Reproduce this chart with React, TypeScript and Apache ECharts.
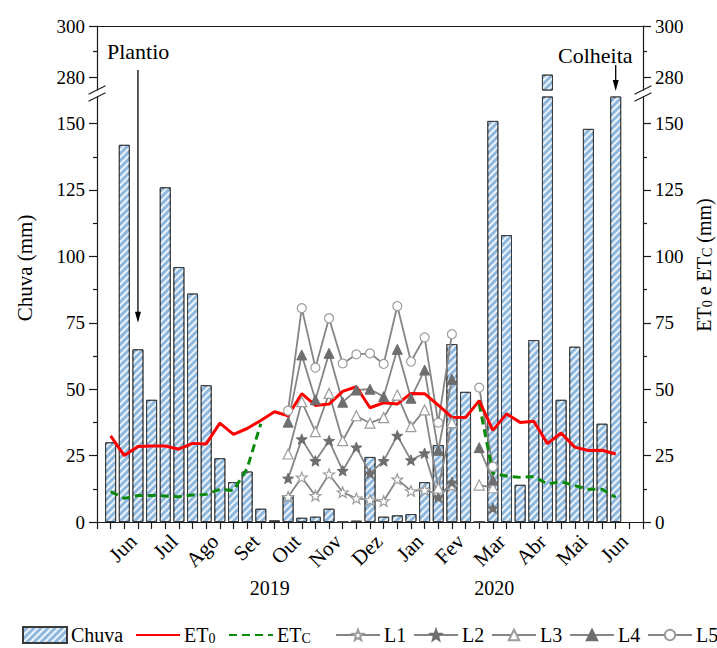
import { useEffect, useRef } from 'react';
import * as echarts from 'echarts';

// 10-day periods from June 2019 to June 2020; period n sits on axis tick n.
const RAIN_START = 1;
const rainfall = [
  30, 142, 65, 46, 126, 96, 86, 51.5, 24, 15, 19, 5, 0.6, 10, 1.6, 2, 5, 0, 0.5,
  24.5, 2, 2.5, 3, 15, 29, 67, 49, 0, 151, 108, 14, 68.5, 281, 46, 66, 148, 37, 210,
];

const ET0_START = 1;
const et0 = [
  32.4, 25.0, 28.4, 28.6, 28.6, 27.4, 29.6, 29.4, 37.2, 33.0, 35.2, 38.2, 41.5, 40.0,
  48.3, 43.9, 44.4, 49.2, 50.9, 43.0, 44.9, 44.4, 48.4, 48.3, 44.0, 39.4, 39.3, 45.7,
  34.5, 40.7, 37.5, 37.9, 29.5, 33.5, 28.2, 26.9, 27.0, 25.6,
];

const ETC_START = 1;
const etc: (number | null)[] = [
  11.4, 8.9, 10.0, 10.0, 9.8, 9.5, 10.2, 10.4, 12.3, 11.8, 20.2, 37,
  null, null, null, null, null, null, null, null, null, null, null, null, null, null, null,
  44.5, 18.3, 17.3, 16.8, 17.1, 14.3, 15.2, 13.7, 12.3, 12.3, 9.3,
];

// Lysimeter readings L1..L5, periods 14 to 29
const L_START = 14;
const l1: (number | null)[] = [9.5, 16.8, 9.9, 18.0, 11.2, 8.9, 8.3, 7.9, 16.1, 11.7, 12.0, 10.5, 13.5, null, null, null];
const l2: (number | null)[] = [16.4, 31.2, 23.0, 30.6, 19.3, 28.1, 18.3, 23.0, 32.5, 23.3, 25.9, 9.3, 14.9, null, null, 5.2];
const l3: (number | null)[] = [25.6, 45.3, 34.0, 48.4, 30.6, 40.0, 37.2, 39.3, 47.8, 35.9, 42.2, 12.8, 37.4, null, 13.9, 12.9];
const l4: (number | null)[] = [37.6, 62.9, 46.0, 63.5, 45.1, 49.7, 50.0, 47.2, 65.0, 46.6, 57.2, 27.0, 53.7, null, 28.0, 15.8];
const l5: (number | null)[] = [41.9, 80.5, 58.1, 76.7, 59.7, 63.1, 63.5, 59.5, 81.3, 60.4, 69.5, 37.4, 70.7, null, 50.6, 20.8];

const monthLabels = ['Jun', 'Jul', 'Ago', 'Set', 'Out', 'Nov', 'Dez', 'Jan', 'Fev', 'Mar', 'Abr', 'Mai', 'Jun'];
const PERIODS_PER_MONTH = 3;
const MONTH_LABEL_SHIFT = -0.35;
const years = [
  { text: '2019', at: 12.65 },
  { text: '2020', at: 29.1 },
];
const PLANTING_PERIOD = 3;
const HARVEST_PERIOD = 38;

const lowerTicks = [0, 25, 50, 75, 100, 125, 150];
const lowerMinorTicks = [12.5, 37.5, 62.5, 87.5, 112.5, 137.5];
const upperTicks = [280, 300];
const upperMinorTicks = [290];

const FONT = "'Liberation Serif', 'Times New Roman', Times, serif";
const INK = '#1a1a1a';
const GRID_LEFT = 97;
const GRID_RIGHT = 74;
const UPPER_TOP = 26;
const UPPER_H = 64;
const LOWER_TOP = 97;
const LOWER_H = 425;

const STAR = 'path://M0,-10L2.47,-3.4L9.51,-3.09L3.99,1.3L5.88,8.09L0,4.2L-5.88,8.09L-3.99,1.3L-9.51,-3.09L-2.47,-3.4Z';

const pairs = (vals: (number | null)[], start: number) => vals.map((v, i) => [start + i, v]);

function yAxisDef(grid: number, side: 'left' | 'right', min: number, max: number, ticks: number[], len: number, labels: boolean) {
  return {
    type: 'value',
    gridIndex: grid,
    position: side,
    offset: 0,
    min,
    max,
    axisLine: { show: labels, onZero: false, lineStyle: { color: INK, width: 1.2 } },
    axisTick: { show: true, inside: false, length: len, customValues: ticks, lineStyle: { color: INK, width: 1.2 } },
    axisLabel: labels
      ? { show: true, customValues: ticks, margin: 12, color: '#000', fontSize: 19, fontFamily: FONT }
      : { show: false },
    splitLine: { show: false },
  };
}

const barStyle = {
  color: '#8fb8df',
  borderColor: '#3a3a3a',
  borderWidth: 1,
  decal: {
    symbol: 'rect',
    symbolSize: 1,
    dashArrayX: [1, 0],
    dashArrayY: [1.2, 2.6],
    rotation: -Math.PI / 4,
    color: 'rgba(255,255,255,0.85)',
  },
};

function lSeries(name: string, data: (number | null)[], symbol: string, size: number, filled: boolean) {
  return {
    type: 'line',
    name,
    xAxisIndex: 1,
    yAxisIndex: 6,
    data: pairs(data, L_START),
    connectNulls: false,
    symbol,
    symbolSize: size,
    symbolKeepAspect: true,
    lineStyle: { color: '#858585', width: 1.8 },
    itemStyle: filled
      ? { color: '#6e6e6e', borderColor: '#6e6e6e', borderWidth: 1 }
      : { color: '#ffffff', borderColor: '#9c9c9c', borderWidth: 1.2 },
  };
}

const legendSlots = [
  { name: 'Chuva', left: 22 },
  { name: 'ET0', left: 135 },
  { name: 'ETC', left: 228 },
  { name: 'L1', left: 335 },
  { name: 'L2', left: 413 },
  { name: 'L3', left: 491 },
  { name: 'L4', left: 569 },
  { name: 'L5', left: 647 },
];
const plainLineLegend = ['ET0', 'ETC'];

const legendText = (name: string) => {
  if (name === 'ET0') return 'ET{s|0}';
  if (name === 'ETC') return 'ET{s|C}';
  return name;
};

export default function App() {
  const ref = useRef<HTMLDivElement>(null);

  useEffect(() => {
    if (!ref.current) return;
    const chart = echarts.init(ref.current, undefined, { renderer: 'svg' });

    const option: any = {
      animation: false,
      backgroundColor: '#ffffff',
      grid: [
        { left: GRID_LEFT, right: GRID_RIGHT, top: UPPER_TOP, height: UPPER_H, outerBoundsMode: 'none' },
        { left: GRID_LEFT, right: GRID_RIGHT, top: LOWER_TOP, height: LOWER_H, outerBoundsMode: 'none' },
      ],
      xAxis: [
        {
          type: 'value', gridIndex: 0, position: 'top', min: 0, max: 40, interval: 1,
          axisLine: { show: true, onZero: false, lineStyle: { color: INK, width: 1.2 } },
          axisTick: { show: false }, axisLabel: { show: false }, splitLine: { show: false },
        },
        {
          type: 'value', gridIndex: 1, position: 'bottom', min: 0, max: 40, interval: 1,
          axisLine: { show: true, onZero: false, lineStyle: { color: INK, width: 1.2 } },
          axisTick: { show: true, length: 7, lineStyle: { color: INK, width: 1.2 } },
          axisLabel: {
            show: true,
            customValues: monthLabels.map((_, k) => (k + 1) * PERIODS_PER_MONTH + MONTH_LABEL_SHIFT),
            formatter: (v: number) => monthLabels[Math.round(v / PERIODS_PER_MONTH) - 1] ?? '',
            rotate: 45,
            margin: 16,
            color: '#000',
            fontSize: 21,
            fontFamily: FONT,
          },
          splitLine: { show: false },
        },
      ],
      yAxis: [
        yAxisDef(0, 'left', 275, 300, upperTicks, 8, true),
        yAxisDef(0, 'left', 275, 300, upperMinorTicks, 4, false),
        yAxisDef(0, 'right', 275, 300, upperTicks, 8, true),
        yAxisDef(0, 'right', 275, 300, upperMinorTicks, 4, false),
        yAxisDef(1, 'left', 0, 160, lowerTicks, 8, true),
        yAxisDef(1, 'left', 0, 160, lowerMinorTicks, 4, false),
        yAxisDef(1, 'right', 0, 160, lowerTicks, 8, true),
        yAxisDef(1, 'right', 0, 160, lowerMinorTicks, 4, false),
      ],
      legend: legendSlots.map((s) => ({
        data: [s.name],
        left: s.left,
        top: 625,
        itemWidth: 44,
        itemHeight: s.name === 'Chuva' ? 16 : 13,
        itemGap: 0,
        padding: 0,
        ...(s.name === 'Chuva' ? { icon: 'rect' } : {}),
        ...(plainLineLegend.includes(s.name) ? { itemStyle: { opacity: 0 } } : {}),
        formatter: legendText,
        textStyle: {
          color: '#000',
          fontSize: 20,
          fontFamily: FONT,
          padding: [0, 0, 0, -1],
          rich: { s: { fontSize: 14, fontFamily: FONT, color: '#000', verticalAlign: 'bottom' } },
        },
      })),
      series: [
        { type: 'bar', name: 'Chuva', xAxisIndex: 0, yAxisIndex: 0, data: pairs(rainfall, RAIN_START), barWidth: 11, clip: true, itemStyle: barStyle },
        { type: 'bar', name: 'Chuva', xAxisIndex: 1, yAxisIndex: 4, data: pairs(rainfall, RAIN_START), barWidth: 11, clip: true, itemStyle: barStyle },
        lSeries('L1', l1, STAR, 11, false),
        lSeries('L2', l2, STAR, 11, true),
        lSeries('L3', l3, 'triangle', 10, false),
        lSeries('L4', l4, 'triangle', 10, true),
        lSeries('L5', l5, 'circle', 9, false),
        {
          type: 'line', name: 'ETC', xAxisIndex: 1, yAxisIndex: 6, data: pairs(etc, ETC_START),
          connectNulls: false, symbol: 'none', smooth: false,
          lineStyle: { color: '#0a8a0a', width: 3, type: [8, 5] },
          itemStyle: { color: '#0a8a0a' },
        },
        {
          type: 'line', name: 'ET0', xAxisIndex: 1, yAxisIndex: 6, data: pairs(et0, ET0_START),
          symbol: 'none', lineStyle: { color: '#ff0000', width: 3 }, itemStyle: { color: '#ff0000' },
        },
      ],
    };

    chart.setOption(option);

    const finder = { xAxisIndex: 1, yAxisIndex: 4 };
    const xAt = (i: number) => (chart.convertToPixel(finder, [i, 0]) as number[])[0];
    const yAt = (v: number) => (chart.convertToPixel(finder, [0, v]) as number[])[1];

    const upperBottom = UPPER_TOP + UPPER_H;
    const leftX = xAt(0);
    const rightX = xAt(40);

    const breakMarks: any[] = [];
    [leftX, rightX].forEach((x) => {
      [upperBottom, LOWER_TOP].forEach((y) => {
        breakMarks.push({
          type: 'line',
          shape: { x1: x - 8.5, y1: y + 4.2, x2: x + 8.5, y2: y - 4.2 },
          style: { stroke: INK, lineWidth: 1.2 },
        });
      });
    });

    const plantX = xAt(PLANTING_PERIOD);
    const plantTip = yAt(75);
    const harvestX = xAt(HARVEST_PERIOD);
    const harvestTip = 91;

    const arrow = (x: number, y1: number, tip: number) => [
      { type: 'line', shape: { x1: x, y1, x2: x, y2: tip - 8 }, style: { stroke: '#000', lineWidth: 1.3 } },
      { type: 'polygon', shape: { points: [[x - 3, tip - 11], [x + 3, tip - 11], [x, tip]] }, style: { fill: '#000' } },
    ];

    const textStyle = { fill: '#000', fontFamily: FONT };

    chart.setOption({
      graphic: [
        ...breakMarks,
        ...arrow(plantX, 70, plantTip),
        ...arrow(harvestX, 65, harvestTip),
        { type: 'text', x: 107, y: 51, style: { ...textStyle, text: 'Plantio', fontSize: 22, align: 'left', verticalAlign: 'middle' } },
        { type: 'text', x: 558, y: 55, style: { ...textStyle, text: 'Colheita', fontSize: 22, align: 'left', verticalAlign: 'middle' } },
        ...years.map((yr) => ({
          type: 'text', x: xAt(yr.at), y: 588,
          style: { ...textStyle, text: yr.text, fontSize: 20, align: 'center', verticalAlign: 'middle' },
        })),
        {
          type: 'text', x: 25, y: 268, rotation: Math.PI / 2,
          style: { ...textStyle, text: 'Chuva (mm)', fontSize: 21, align: 'center', verticalAlign: 'middle' },
        },
        {
          type: 'text', x: 704, y: 265, rotation: Math.PI / 2,
          style: {
            ...textStyle,
            text: '{b|ET}{s|0}{b| e ET}{s|C}{b| (mm)}',
            align: 'center',
            verticalAlign: 'middle',
            rich: {
              b: { fontSize: 20, fontFamily: FONT, fill: '#000', color: '#000', verticalAlign: 'bottom' },
              s: { fontSize: 14, fontFamily: FONT, fill: '#000', color: '#000', verticalAlign: 'bottom' },
            },
          },
        },
      ],
    });

    return () => chart.dispose();
  }, []);

  return <div ref={ref} style={{ position: 'absolute', left: 0, top: 0, width: 717, height: 648 }} />;
}
